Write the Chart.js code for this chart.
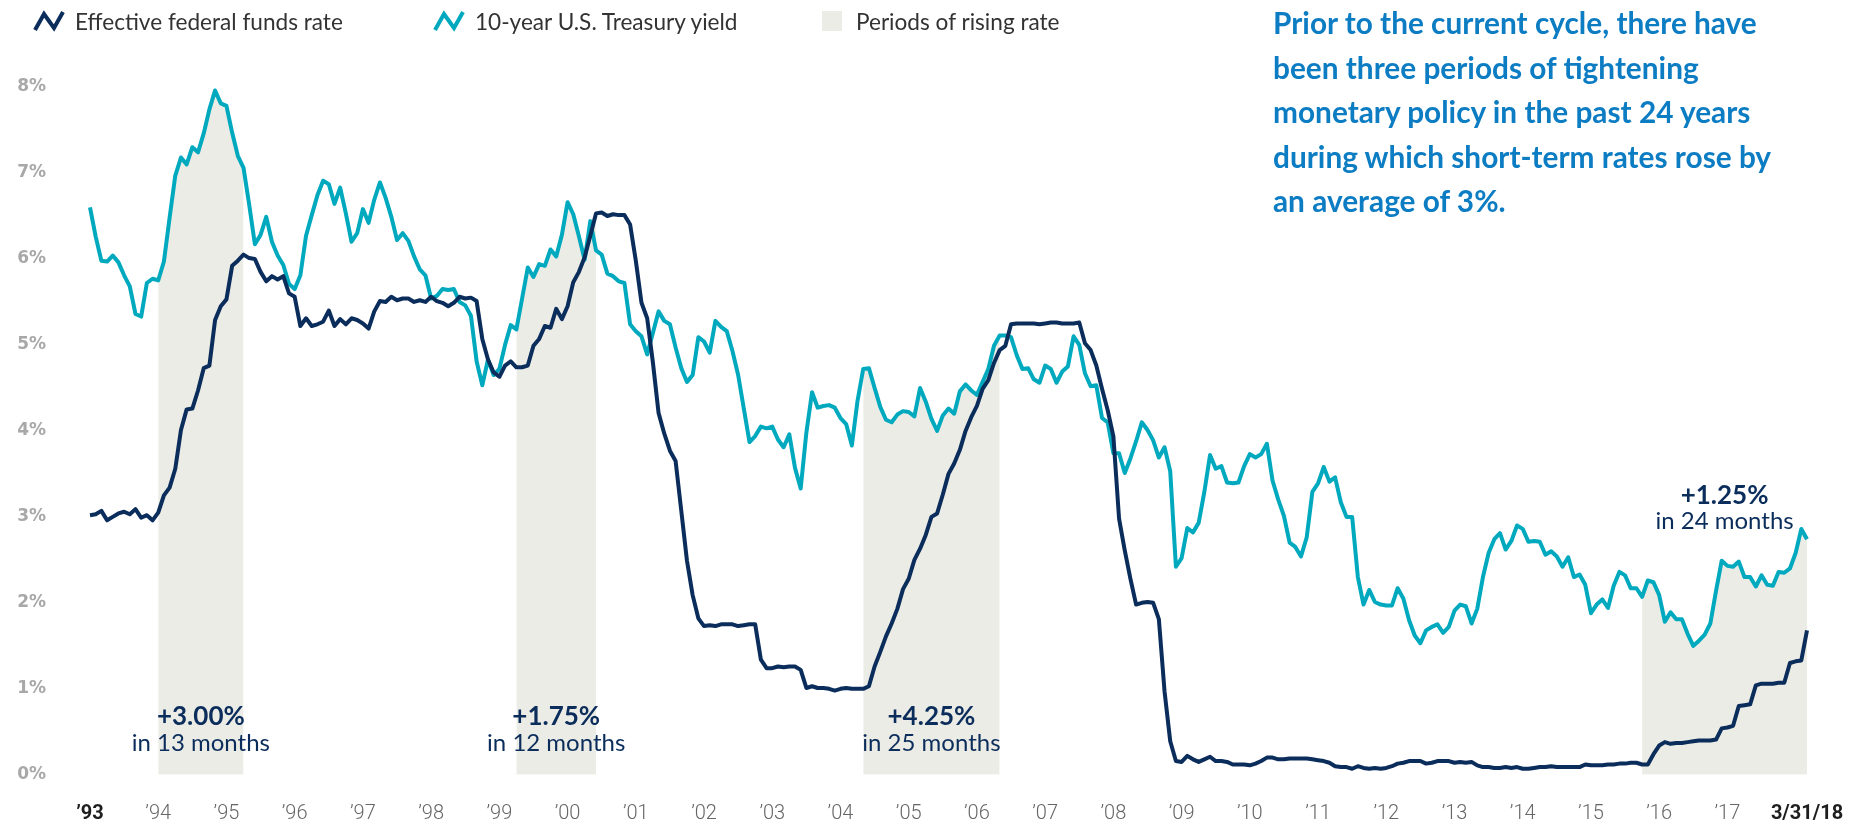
<!DOCTYPE html>
<html>
<head>
<meta charset="utf-8">
<title>Fed funds rate and 10-year Treasury yield</title>
<script src="https://cdn.jsdelivr.net/npm/chart.js@4.4.1/dist/chart.umd.min.js"></script>
<style>
  html, body { margin: 0; padding: 0; background: #fff; }
  .wrap { position: relative; width: 1860px; height: 829px; overflow: hidden; }
  #rates { position: absolute; left: 0; top: 0; }
  .legend { font-family: Lato, sans-serif; font-size: 22.6px; color: #333; }
  .legend .item { position: absolute; top: 8px; height: 26px; display: flex; align-items: center; white-space: nowrap; }
  .legend svg { margin-right: 10px; }
  .legend .swatch { width: 20px; height: 20px; background: #ecece6; margin-right: 14px; }
  .callout { position: absolute; left: 1273px; top: 1px; font-family: Lato, sans-serif; font-weight: 700;
             font-size: 29.8px; line-height: 44.5px; color: #0c7cc3; white-space: nowrap; }
</style>
</head>
<body>
<div class="wrap">
  <canvas id="rates" width="1860" height="829"></canvas>
  <div class="legend">
    <div class="item" style="left:33px">
      <svg width="32" height="22"><polyline points="2,20 11,4 21,18 30,2" fill="none" stroke="#0b2d5b" stroke-width="4"/></svg>
      Effective federal funds rate
    </div>
    <div class="item" style="left:433px">
      <svg width="32" height="22"><polyline points="2,20 11,4 21,18 30,2" fill="none" stroke="#00a9be" stroke-width="4"/></svg>
      10-year U.S. Treasury yield
    </div>
    <div class="item" style="left:822px">
      <div class="swatch"></div>
      Periods of rising rate
    </div>
  </div>
  <div class="callout">
    Prior to the current cycle, there have<br>
    been three periods of tightening<br>
    monetary policy in the past 24 years<br>
    during which short-term rates rose by<br>
    an average of 3%.
  </div>
</div>

<script>
// Monthly values, Jan 1993 through Feb 2018, last point is 3/31/18
const fedFunds = [
  3.02, 3.03, 3.07, 2.96, 3.00, 3.04, 3.06, 3.03, 3.09, 2.99, 3.02, 2.96,
  3.05, 3.25, 3.34, 3.56, 4.01, 4.25, 4.26, 4.47, 4.73, 4.76, 5.29, 5.45,
  5.53, 5.92, 5.98, 6.05, 6.01, 6.00, 5.85, 5.74, 5.80, 5.76, 5.80, 5.60,
  5.56, 5.22, 5.31, 5.22, 5.24, 5.27, 5.40, 5.22, 5.30, 5.24, 5.31, 5.29,
  5.25, 5.19, 5.39, 5.51, 5.50, 5.56, 5.52, 5.54, 5.54, 5.50, 5.52, 5.50,
  5.56, 5.51, 5.49, 5.45, 5.49, 5.56, 5.54, 5.55, 5.51, 5.07, 4.83, 4.68,
  4.63, 4.76, 4.81, 4.74, 4.74, 4.76, 4.99, 5.07, 5.22, 5.20, 5.42, 5.30,
  5.45, 5.73, 5.85, 6.02, 6.27, 6.53, 6.54, 6.50, 6.52, 6.51, 6.51, 6.40,
  5.98, 5.49, 5.31, 4.80, 4.21, 3.97, 3.77, 3.65, 3.07, 2.49, 2.09, 1.82,
  1.73, 1.74, 1.73, 1.75, 1.75, 1.75, 1.73, 1.74, 1.75, 1.75, 1.34, 1.24,
  1.24, 1.26, 1.25, 1.26, 1.26, 1.22, 1.01, 1.03, 1.01, 1.01, 1.00, 0.98,
  1.00, 1.01, 1.00, 1.00, 1.00, 1.03, 1.26, 1.43, 1.61, 1.76, 1.93, 2.16,
  2.28, 2.50, 2.63, 2.79, 3.00, 3.04, 3.26, 3.50, 3.62, 3.78, 4.00, 4.16,
  4.29, 4.49, 4.59, 4.79, 4.94, 4.99, 5.24, 5.25, 5.25, 5.25, 5.25, 5.24,
  5.25, 5.26, 5.26, 5.25, 5.25, 5.25, 5.26, 5.02, 4.94, 4.76, 4.49, 4.24,
  3.94, 2.98, 2.61, 2.28, 1.98, 2.00, 2.01, 2.00, 1.81, 0.97, 0.39, 0.16,
  0.15, 0.22, 0.18, 0.15, 0.18, 0.21, 0.16, 0.16, 0.15, 0.12, 0.12, 0.12,
  0.11, 0.13, 0.16, 0.20, 0.20, 0.18, 0.18, 0.19, 0.19, 0.19, 0.19, 0.18,
  0.17, 0.16, 0.14, 0.10, 0.09, 0.09, 0.07, 0.10, 0.08, 0.07, 0.08, 0.07,
  0.08, 0.10, 0.13, 0.14, 0.16, 0.16, 0.16, 0.13, 0.14, 0.16, 0.16, 0.16,
  0.14, 0.15, 0.14, 0.15, 0.11, 0.09, 0.09, 0.08, 0.08, 0.09, 0.08, 0.09,
  0.07, 0.07, 0.08, 0.09, 0.09, 0.10, 0.09, 0.09, 0.09, 0.09, 0.09, 0.12,
  0.11, 0.11, 0.11, 0.12, 0.12, 0.13, 0.13, 0.14, 0.14, 0.12, 0.12, 0.24,
  0.34, 0.38, 0.36, 0.37, 0.37, 0.38, 0.39, 0.40, 0.40, 0.40, 0.41, 0.54,
  0.55, 0.57, 0.80, 0.81, 0.82, 1.04, 1.06, 1.06, 1.06, 1.07, 1.07, 1.30,
  1.32, 1.33, 1.68
];

const tsy10 = [
  6.60, 6.26, 5.98, 5.97, 6.04, 5.96, 5.81, 5.68, 5.36, 5.33, 5.72, 5.77,
  5.75, 5.97, 6.48, 6.97, 7.18, 7.10, 7.30, 7.24, 7.46, 7.74, 7.96, 7.81,
  7.78, 7.47, 7.20, 7.06, 6.63, 6.17, 6.28, 6.49, 6.20, 6.04, 5.93, 5.71,
  5.65, 5.81, 6.27, 6.51, 6.74, 6.91, 6.87, 6.64, 6.83, 6.53, 6.20, 6.30,
  6.58, 6.42, 6.69, 6.89, 6.71, 6.49, 6.22, 6.30, 6.21, 6.03, 5.88, 5.81,
  5.54, 5.57, 5.65, 5.64, 5.65, 5.50, 5.46, 5.34, 4.81, 4.53, 4.83, 4.65,
  4.72, 5.00, 5.23, 5.18, 5.54, 5.90, 5.79, 5.94, 5.92, 6.11, 6.03, 6.28,
  6.66, 6.52, 6.26, 5.99, 6.44, 6.10, 6.05, 5.83, 5.80, 5.74, 5.72, 5.24,
  5.16, 5.10, 4.89, 5.14, 5.39, 5.28, 5.24, 4.97, 4.73, 4.57, 4.65, 5.09,
  5.04, 4.91, 5.28, 5.21, 5.16, 4.93, 4.65, 4.26, 3.87, 3.94, 4.05, 4.03,
  4.05, 3.90, 3.81, 3.96, 3.57, 3.33, 3.98, 4.45, 4.27, 4.29, 4.30, 4.27,
  4.15, 4.08, 3.83, 4.35, 4.72, 4.73, 4.50, 4.28, 4.13, 4.10, 4.19, 4.23,
  4.22, 4.17, 4.50, 4.34, 4.14, 4.00, 4.18, 4.26, 4.20, 4.46, 4.54, 4.47,
  4.42, 4.57, 4.72, 4.99, 5.11, 5.11, 5.09, 4.88, 4.72, 4.73, 4.60, 4.56,
  4.76, 4.72, 4.56, 4.69, 4.75, 5.10, 5.00, 4.67, 4.52, 4.53, 4.15, 4.10,
  3.74, 3.74, 3.51, 3.68, 3.88, 4.10, 4.01, 3.89, 3.69, 3.81, 3.53, 2.42,
  2.52, 2.87, 2.82, 2.93, 3.29, 3.72, 3.56, 3.59, 3.40, 3.39, 3.40, 3.59,
  3.73, 3.69, 3.73, 3.85, 3.42, 3.20, 3.01, 2.70, 2.65, 2.54, 2.76, 3.29,
  3.39, 3.58, 3.41, 3.46, 3.17, 3.00, 3.00, 2.30, 1.98, 2.15, 2.01, 1.98,
  1.97, 1.97, 2.17, 2.05, 1.80, 1.62, 1.53, 1.68, 1.72, 1.75, 1.65, 1.72,
  1.91, 1.98, 1.96, 1.76, 1.93, 2.30, 2.58, 2.74, 2.81, 2.62, 2.72, 2.90,
  2.86, 2.71, 2.72, 2.71, 2.56, 2.60, 2.54, 2.42, 2.53, 2.30, 2.33, 2.21,
  1.88, 1.98, 2.04, 1.94, 2.20, 2.36, 2.32, 2.17, 2.17, 2.07, 2.26, 2.24,
  2.09, 1.78, 1.89, 1.81, 1.81, 1.64, 1.50, 1.56, 1.63, 1.76, 2.14, 2.49,
  2.43, 2.42, 2.48, 2.30, 2.30, 2.19, 2.32, 2.21, 2.20, 2.36, 2.35, 2.40,
  2.58, 2.86, 2.74
];

// Tightening periods as [first month, last month] counted from Jan 1993
const risingBands = [[12, 27], [75, 89], [136, 160], [273, 302]];
const riseLabels = ['+3.00%', '+1.75%', '+4.25%', '+1.25%'];
const riseSpans = ['in 13 months', 'in 12 months', 'in 25 months', 'in 24 months'];

const tickLabels = ['\u201993', '\u201994', '\u201995', '\u201996', '\u201997', '\u201998', '\u201999',
  '\u201900', '\u201901', '\u201902', '\u201903', '\u201904', '\u201905', '\u201906', '\u201907',
  '\u201908', '\u201909', '\u201910', '\u201911', '\u201912', '\u201913', '\u201914', '\u201915',
  '\u201916', '\u201917', '3/31/18'];

const NAVY = '#0b2d5b';
const TEAL = '#00a9be';
const SHADE = '#ecece6';

const lastMonth = fedFunds.length - 1;
const tickMonths = tickLabels.map((t, i) => (i === tickLabels.length - 1 ? lastMonth : i * 12));

const toPoints = arr => arr.map((v, i) => ({ x: i, y: v }));

// shaded area reaches up to whichever line is higher inside each band
const bandTops = fedFunds.map((f, i) =>
  risingBands.some(b => i >= b[0] && i <= b[1]) ? Math.max(f, tsy10[i]) : null);

const bandNotes = {
  id: 'bandNotes',
  afterDatasetsDraw(chart) {
    const { ctx, scales: { x, y } } = chart;
    ctx.save();
    ctx.textAlign = 'center';
    ctx.textBaseline = 'middle';
    ctx.fillStyle = NAVY;
    risingBands.forEach((b, i) => {
      const cx = x.getPixelForValue((b[0] + b[1]) / 2);
      const last = i === risingBands.length - 1;
      const top = last ? y.getPixelForValue(3.25) : y.getPixelForValue(0) - 58;
      ctx.font = '700 26px Lato';
      ctx.fillText(riseLabels[i], cx, top);
      ctx.font = '400 24px Lato';
      ctx.fillText(riseSpans[i], cx, top + 26);
    });
    ctx.restore();
  }
};

const isEnd = c => c.index === 0 || c.index === tickLabels.length - 1;

new Chart(document.getElementById('rates'), {
  type: 'line',
  data: {
    datasets: [{
      label: 'Effective federal funds rate',
      data: toPoints(fedFunds),
      borderColor: NAVY,
      borderWidth: 4,
      borderJoinStyle: 'round',
      pointRadius: 0,
      tension: 0,
      clip: false,
      order: 1
    }, {
      label: '10-year U.S. Treasury yield',
      data: toPoints(tsy10),
      borderColor: TEAL,
      borderWidth: 4,
      borderJoinStyle: 'round',
      pointRadius: 0,
      tension: 0,
      clip: false,
      order: 2
    }, {
      label: 'Periods of rising rate',
      data: toPoints(bandTops),
      borderWidth: 0,
      backgroundColor: SHADE,
      fill: 'origin',
      pointRadius: 0,
      tension: 0,
      spanGaps: false,
      order: 3
    }]
  },
  options: {
    responsive: false,
    animation: false,
    devicePixelRatio: 1,
    layout: { padding: { top: 87, right: 53, bottom: 0, left: 0 } },
    plugins: {
      legend: { display: false },
      tooltip: { enabled: false }
    },
    scales: {
      x: {
        type: 'linear',
        min: 0,
        max: lastMonth,
        grid: { display: false, drawTicks: false },
        border: { display: false },
        afterBuildTicks: axis => { axis.ticks = tickMonths.map(v => ({ value: v })); },
        afterFit: axis => { axis.height = 52; axis.paddingLeft = 0; axis.paddingRight = 0; },
        ticks: {
          autoSkip: false,
          maxRotation: 0,
          padding: 27,
          callback: (v, i) => tickLabels[i],
          color: c => (isEnd(c) ? '#1e1e1e' : '#666'),
          font: c => ({ family: 'Roboto', size: 20, weight: isEnd(c) ? '700' : '300' })
        }
      },
      y: {
        min: 0,
        max: 8,
        grid: { display: false, drawTicks: false },
        border: { display: false },
        afterFit: axis => { axis.width = 90; },
        ticks: {
          stepSize: 1,
          padding: 44,
          color: '#a8a8a8',
          font: { family: 'DejaVu Sans', size: 17, weight: 'bold' },
          callback: v => v + '%'
        }
      }
    }
  },
  plugins: [bandNotes]
});
</script>
</body>
</html>
